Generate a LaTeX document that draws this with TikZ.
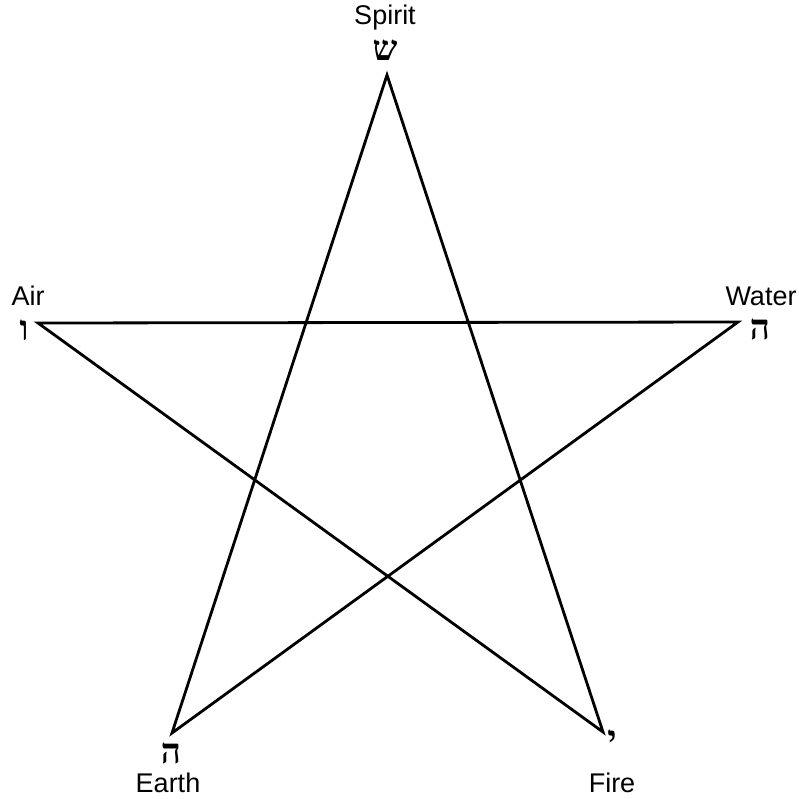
\documentclass[tikz,border=0pt]{standalone}
\usepackage{fontspec}
\setmainfont{Liberation Sans}
\newfontfamily\hebfont[Script=Hebrew]{Liberation Serif}
\TeXXeTstate=1
\begin{document}
\begin{tikzpicture}[x=1pt,y=-1pt,
  edge/.style={line width=2.8pt,line join=miter},
  lbl/.style={font=\fontsize{27}{30}\selectfont,inner sep=0pt},
  heb/.style={font=\hebfont\bfseries\fontsize{35}{38}\selectfont,inner sep=0pt}]
\useasboundingbox (0,0) rectangle (799,798);
\coordinate (S) at (387,75);
\coordinate (A) at (38,323);
\coordinate (W) at (738,322);
\coordinate (E) at (172,733);
\coordinate (F) at (603,732);
\draw[edge] (E) -- (S) -- (F) -- (A) -- (W) -- cycle;
\node[lbl] (ts) at (385,18) {Spirit};
\node[heb] (hs) at (385,50) {\beginR ש\endR};
\node[lbl] (ta) at (28,296) {Air};
\node[heb] (ha) at (24,330) {\beginR ו\endR};
\node[lbl] (tw) at (761,296) {Water};
\node[heb] (hw) at (760,329) {\beginR ה\endR};
\node[heb] (he) at (171,753) {\beginR ה\endR};
\node[lbl] (te) at (168,783) {Earth};
\node[heb] (hf) at (612,740) {\beginR י\endR};
\node[lbl] (tf) at (612,783) {Fire};
\end{tikzpicture}
\end{document}
